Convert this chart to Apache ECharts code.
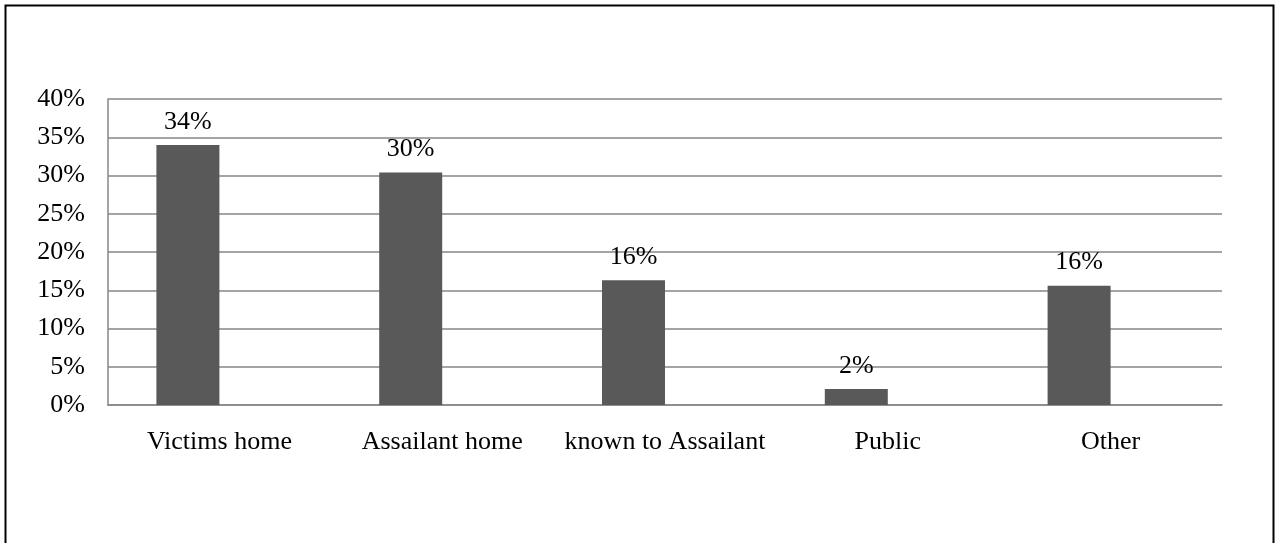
<!DOCTYPE html>
<html>
<head>
<meta charset="utf-8">
<script src="https://cdn.jsdelivr.net/npm/echarts@6/dist/echarts.min.js"></script>
<style>
html,body{margin:0;padding:0;background:#fff;}
#c{width:1276px;height:543px;}
</style>
</head>
<body>
<div id="c"></div>
<script>
const categories = ['Victims home', 'Assailant home', 'known to Assailant', 'Public', 'Other'];
const values = [34.0, 30.4, 16.3, 2.1, 15.6];
const emptySeries = [null, null, null, null, null];
const yTicks = [0, 5, 10, 15, 20, 25, 30, 35, 40];

const chart = echarts.init(document.getElementById('c'), null, {renderer: 'canvas'});
const font = '"Liberation Serif", "Times New Roman", serif';
const gridColor = '#868686';
chart.setOption({
  animation: false,
  backgroundColor: '#fff',
  graphic: [{
    type: 'rect', left: 3, top: 3, z: 100,
    shape: {width: 1268, height: 560},
    style: {fill: 'none', stroke: '#000', lineWidth: 2}
  }],
  grid: {left: 108, right: 54, top: 99, bottom: 138},
  xAxis: {
    type: 'category',
    data: categories,
    axisLine: {show: true, lineStyle: {color: gridColor, width: 1.5}},
    axisTick: {show: false},
    axisLabel: {color: '#000', fontFamily: font, fontSize: 26, margin: 24, interval: 0}
  },
  yAxis: {
    type: 'value',
    min: yTicks[0], max: yTicks[yTicks.length - 1], interval: 5,
    axisLine: {show: true, lineStyle: {color: gridColor, width: 1.5}},
    axisTick: {show: false},
    splitLine: {show: true, lineStyle: {color: gridColor, width: 1.5}},
    axisLabel: {color: '#000', fontFamily: font, fontSize: 26, margin: 23, formatter: v => v + '%'}
  },
  series: [{
    type: 'bar',
    data: values,
    barWidth: 63,
    barGap: '0%',
    itemStyle: {color: '#595959'},
    label: {show: true, position: 'top', distance: 10, color: '#000', fontFamily: font, fontSize: 26,
      formatter: p => Math.round(p.value) + '%'}
  }, {
    type: 'bar',
    data: emptySeries,
    barWidth: 63,
    barGap: '0%',
    itemStyle: {color: '#595959'}
  }]
});
</script>
</body>
</html>
